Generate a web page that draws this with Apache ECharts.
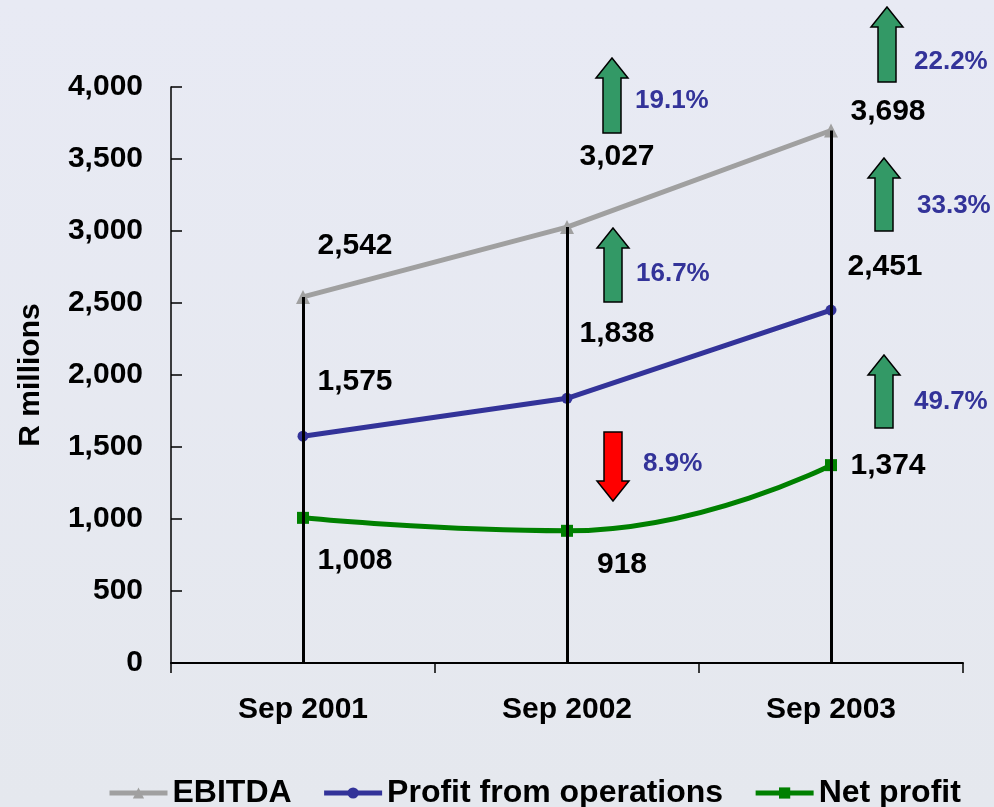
<!DOCTYPE html>
<html>
<head>
<meta charset="utf-8">
<script src="https://cdn.jsdelivr.net/npm/echarts@6/dist/echarts.min.js"></script>
<style>
  html, body { margin: 0; padding: 0; }
  #chart { width: 994px; height: 807px; }
</style>
</head>
<body>
<div id="chart"></div>
<script>
var categories = ['Sep 2001', 'Sep 2002', 'Sep 2003'];
var ebitda = [2542, 3027, 3698];
var profitOps = [1575, 1838, 2451];
var netProfit = [1008, 918, 1374];
var yTicks = [0, 500, 1000, 1500, 2000, 2500, 3000, 3500, 4000];
// year-on-year change labels as printed on the slide
var ebitdaChange = ['19.1%', '22.2%'];
var opsChange = ['16.7%', '33.3%'];
var netChange = ['8.9%', '49.7%'];

var FONT = '"Liberation Sans", Arial, sans-serif';

// label offsets from each point (centre of text)
var ebitdaOffsets = [[52, -51], [50, -70], [57, -19]];
var opsOffsets = [[52, -54], [50, -65], [54, -43]];
var netOffsets = [[52, 43], [55, 34], [57, 1]];

function fmt(v) {
  return v.toLocaleString('en-US');
}

function withLabels(values, offsets) {
  return values.map(function (v, i) {
    return {
      value: v,
      label: {
        show: true,
        position: 'inside',
        offset: offsets[i],
        formatter: fmt(v),
        fontFamily: FONT,
        fontWeight: 'bold',
        fontSize: 30,
        color: '#000'
      }
    };
  });
}

// arrow annotations: tip x, tip y, length, direction, text pos, text
var arrows = [
  { x: 612, y: 58, len: 75, up: true, tx: 635, ty: 101, text: ebitdaChange[0] },
  { x: 887, y: 7, len: 75, up: true, tx: 914, ty: 62, text: ebitdaChange[1] },
  { x: 613, y: 228, len: 74, up: true, tx: 636, ty: 274, text: opsChange[0] },
  { x: 884, y: 158, len: 73, up: true, tx: 917, ty: 206, text: opsChange[1] },
  { x: 613, y: 501, len: 69, up: false, tx: 643, ty: 464, text: netChange[0] },
  { x: 884, y: 355, len: 73, up: true, tx: 914, ty: 402, text: netChange[1] }
];

var graphics = [];
arrows.forEach(function (a) {
  var s = a.up ? 1 : -1;
  var hh = 20, hw = 16, sw = 9;
  graphics.push({
    type: 'polygon',
    x: a.x, y: a.y,
    shape: {
      points: [[0, 0], [hw, s * hh], [sw, s * hh], [sw, s * a.len], [-sw, s * a.len], [-sw, s * hh], [-hw, s * hh]]
    },
    style: { fill: a.up ? '#339966' : '#FF0000', stroke: '#000', lineWidth: 1.5 },
    z: 10
  });
  graphics.push({
    type: 'text',
    x: a.tx, y: a.ty,
    style: {
      text: a.text,
      fill: '#333399',
      fontFamily: FONT,
      fontWeight: 'bold',
      fontSize: 26,
      textAlign: 'left',
      textVerticalAlign: 'middle'
    },
    z: 10
  });
});

var chart = echarts.init(document.getElementById('chart'));

chart.setOption({
  animation: false,
  backgroundColor: {
    type: 'linear', x: 0, y: 0, x2: 0, y2: 1,
    colorStops: [
      { offset: 0, color: '#E8EAF4' },
      { offset: 1, color: '#E5E8EE' }
    ]
  },
  grid: {
    left: 171,
    right: 31,
    top: 87,
    bottom: 144
  },
  legend: {
    left: 102,
    top: 772,
    itemWidth: 58,
    itemHeight: 14,
    itemGap: 30,
    lineStyle: { width: 5 },
    textStyle: {
      fontFamily: FONT,
      fontWeight: 'bold',
      fontSize: 32,
      color: '#000'
    },
    data: ['EBITDA', 'Profit from operations', 'Net profit']
  },
  xAxis: {
    type: 'category',
    data: categories,
    boundaryGap: true,
    axisLine: { lineStyle: { color: '#000', width: 2 } },
    axisTick: { show: true, length: 10, lineStyle: { color: '#000', width: 1.5 } },
    axisLabel: {
      margin: 32,
      fontFamily: FONT,
      fontWeight: 'bold',
      fontSize: 30,
      color: '#000'
    },
    splitLine: { show: false }
  },
  yAxis: {
    type: 'value',
    min: yTicks[0],
    max: yTicks[yTicks.length - 1],
    interval: 500,
    name: 'R millions',
    nameLocation: 'middle',
    nameRotate: 90,
    nameGap: 125,
    nameTextStyle: {
      fontFamily: FONT,
      fontWeight: 'bold',
      fontSize: 30,
      color: '#000'
    },
    axisLine: { show: true, lineStyle: { color: '#000', width: 1.5 } },
    axisTick: { show: true, inside: true, length: 11, lineStyle: { color: '#000', width: 1.5 } },
    axisLabel: {
      margin: 28,
      fontFamily: FONT,
      fontWeight: 'bold',
      fontSize: 30,
      color: '#000',
      formatter: function (v) { return fmt(v); }
    },
    splitLine: { show: false }
  },
  series: [
    {
      name: 'EBITDA',
      type: 'line',
      z: 1,
      data: withLabels(ebitda, ebitdaOffsets),
      symbol: 'triangle',
      symbolSize: 14,
      itemStyle: { color: '#A0A0A0' },
      lineStyle: { color: '#A0A0A0', width: 5 },
      markLine: {
        silent: true,
        symbol: 'none',
        label: { show: false },
        lineStyle: { color: '#000', width: 3, type: 'solid' },
        data: ebitda.map(function (v, i) {
          return [{ coord: [i, v] }, { coord: [i, 0] }];
        })
      }
    },
    {
      name: 'Profit from operations',
      type: 'line',
      z: 3,
      data: withLabels(profitOps, opsOffsets),
      symbol: 'circle',
      symbolSize: 11,
      itemStyle: { color: '#333399' },
      lineStyle: { color: '#333399', width: 5 }
    },
    {
      name: 'Net profit',
      type: 'line',
      z: 3,
      smooth: 0.5,
      data: withLabels(netProfit, netOffsets),
      symbol: 'rect',
      symbolSize: 12,
      itemStyle: { color: '#008000' },
      lineStyle: { color: '#008000', width: 5 }
    }
  ],
  graphic: graphics
});
</script>
</body>
</html>
